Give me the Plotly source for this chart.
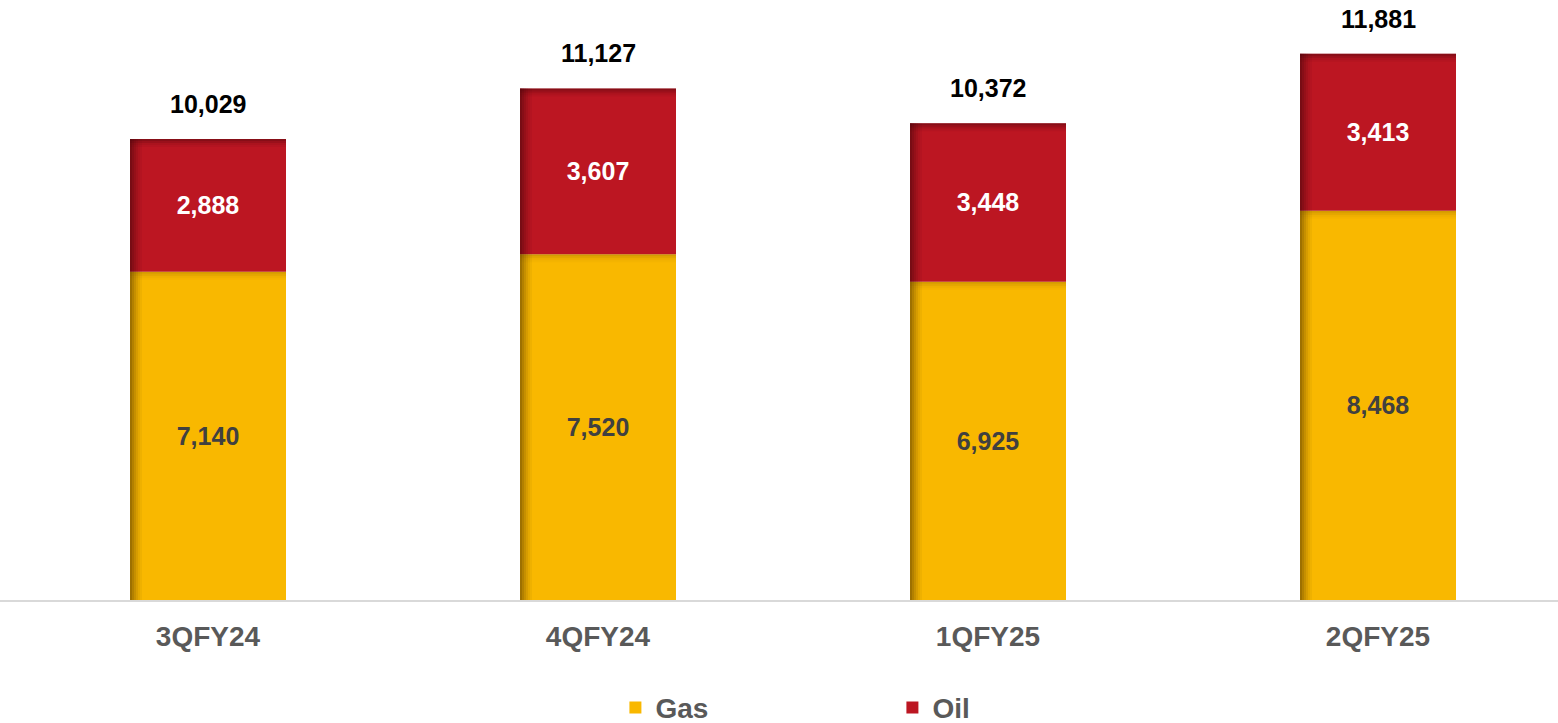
import plotly.graph_objects as go

quarters = ["3QFY24", "4QFY24", "1QFY25", "2QFY25"]
gas = [7140, 7520, 6925, 8468]
oil = [2888, 3607, 3448, 3413]
totals = [10029, 11127, 10372, 11881]

GAS = "#F9B800"
OIL = "#BC1622"
FONT = "Liberation Sans, Arial, sans-serif"
BAR_W = 0.4
PX_X = 1 / 390.0          # one pixel in category units
PX_Y = 1 / 0.04597        # one pixel in value units

fig = go.Figure()

fig.add_trace(go.Bar(
    x=quarters, y=gas, base=[0] * 4, name="Gas", width=BAR_W,
    marker=dict(color=GAS, line=dict(width=0)),
    text=[f"{v:,}" for v in gas], textposition="inside", insidetextanchor="middle",
    textfont=dict(family=FONT, size=25, color="#404040", weight="bold"),
    textangle=0,
))
fig.add_trace(go.Bar(
    x=quarters, y=oil, base=gas, name="Oil", width=BAR_W,
    marker=dict(color=OIL, line=dict(width=0)),
    text=[f"{v:,}" for v in oil], textposition="inside", insidetextanchor="middle",
    textfont=dict(family=FONT, size=25, color="white", weight="bold"),
    textangle=0,
))

# soft shading along the left edge of each segment
left_steps = [(0, 0.58), (2, 0.45), (4, 0.33), (6, 0.22), (8, 0.13), (10, 0.06)]
for seg_vals, seg_base, dark in [(gas, [0] * 4, "90,60,0"), (oil, gas, "70,5,10")]:
    for px0, alpha in left_steps:
        fig.add_trace(go.Bar(
            x=quarters, y=seg_vals, base=seg_base,
            width=2 * PX_X, offset=-BAR_W / 2 + px0 * PX_X,
            marker=dict(color=f"rgba({dark},{alpha})", line=dict(width=0)),
            showlegend=False, hoverinfo="skip",
        ))

# soft shading along the top edge of each segment
top_steps = [(0, 0.45), (2, 0.28), (4, 0.14), (6, 0.06)]
for seg_vals, seg_base, dark, scale in [(gas, [0] * 4, "120,80,0", 0.6), (oil, gas, "70,5,10", 1.0)]:
    tops = [b + v for b, v in zip(seg_base, seg_vals)]
    for py0, alpha in top_steps:
        fig.add_trace(go.Bar(
            x=quarters, y=[2 * PX_Y] * 4, base=[t - (py0 + 2) * PX_Y for t in tops],
            width=BAR_W,
            marker=dict(color=f"rgba({dark},{alpha * scale})", line=dict(width=0)),
            showlegend=False, hoverinfo="skip",
        ))

for q, t in zip(quarters, totals):
    fig.add_annotation(
        x=q, y=t, text=f"{t:,}", showarrow=False, yanchor="bottom", yshift=19,
        font=dict(family=FONT, size=25, color="#000000", weight="bold"),
    )

fig.update_layout(
    width=1558, height=723,
    margin=dict(l=0, r=0, t=2, b=123),
    barmode="overlay",
    paper_bgcolor="white", plot_bgcolor="white",
    font=dict(family=FONT),
    showlegend=True,
    legend=dict(
        orientation="h", xref="container", yref="container",
        x=0.395, xanchor="left", y=0.021, yanchor="middle",
        font=dict(family=FONT, size=28, color="#595959", weight="bold"),
        entrywidth=232, itemsizing="constant", bgcolor="rgba(0,0,0,0)",
    ),
    xaxis=dict(
        range=[-0.5 - 13 * PX_X, 3.5 - 15 * PX_X],
        showgrid=False, showline=True, linecolor="#D9D9D9", linewidth=2,
        ticks="", tickfont=dict(family=FONT, size=28, color="#595959", weight="bold"),
        ticklabelstandoff=10,
    ),
    yaxis=dict(range=[0, 13008], visible=False, showgrid=False, zeroline=False),
)

fig.write_html("out.html")
